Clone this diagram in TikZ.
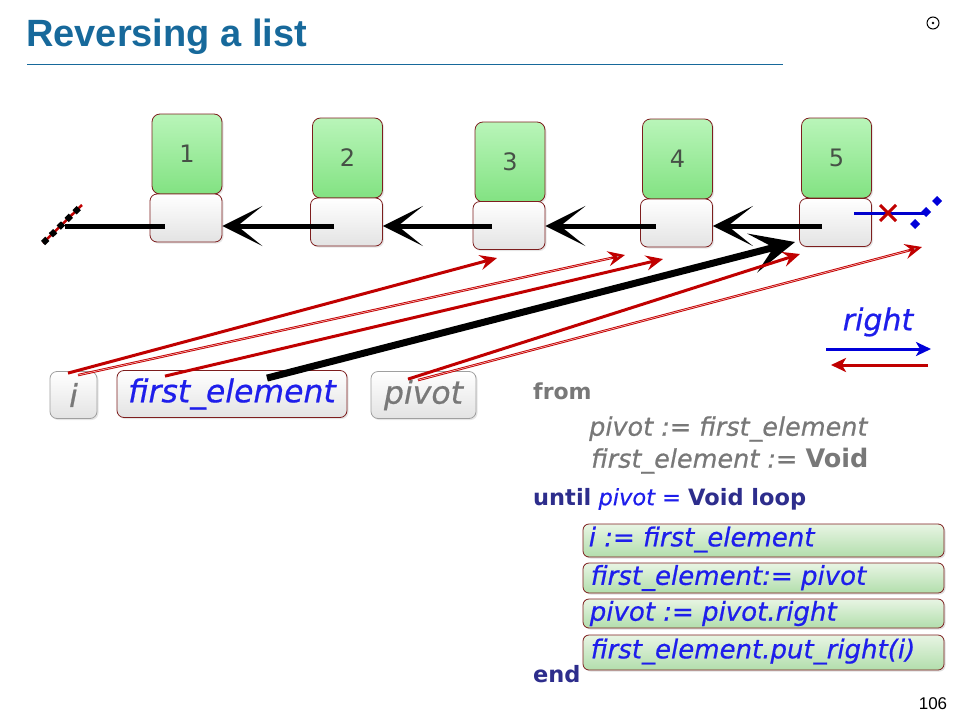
\documentclass[tikz,border=0pt]{standalone}
\usepackage{fontspec}
\setmainfont{DejaVu Sans}
\newfontfamily\titlefont{Liberation Sans}
\newfontfamily\comicit{DejaVu Sans Oblique}[FakeBold=0.6]
\usetikzlibrary{arrows.meta,calc,shadows}
\newcommand\myfs[1]{\fontsize{#1}{#1}\selectfont}
\definecolor{ttl}{RGB}{23,105,155}
\definecolor{dred}{RGB}{192,0,0}
\definecolor{bord}{RGB}{125,30,30}
\definecolor{kw}{RGB}{45,45,140}
\definecolor{vblue}{RGB}{30,30,235}
\definecolor{cgray}{RGB}{120,120,120}
\definecolor{gtop}{RGB}{185,245,185}
\definecolor{gbot}{RGB}{130,226,130}
\definecolor{btop}{RGB}{232,245,228}
\definecolor{bbot}{RGB}{178,222,172}
\definecolor{numc}{RGB}{70,80,70}
\tikzset{
  valbox/.style={draw=bord, line width=0.8pt, rounded corners=8pt, top color=gtop, bottom color=gbot,
    minimum width=70pt, minimum height=80pt, inner sep=0pt, text=numc, font=\myfs{24},
    drop shadow={opacity=0.2, shadow xshift=1.5pt, shadow yshift=-1.5pt}},
  linkbox/.style={draw=bord, line width=0.8pt, rounded corners=7pt, top color=white, bottom color=gray!22,
    minimum width=72pt, minimum height=48pt, inner sep=0pt,
    drop shadow={opacity=0.2, shadow xshift=1.5pt, shadow yshift=-1.5pt}},
  varbox/.style={draw=gray!75, line width=0.8pt, rounded corners=7pt, top color=white, bottom color=gray!22,
    minimum height=47pt, inner sep=0pt, font=\myfs{31.5}\comicit,
    drop shadow={opacity=0.2, shadow xshift=1.5pt, shadow yshift=-1.5pt}},
  codebar/.style={draw=bord, line width=0.8pt, rounded corners=6pt, top color=btop, bottom color=bbot,
    minimum width=361pt, inner sep=0pt,
    drop shadow={opacity=0.25, shadow xshift=1.5pt, shadow yshift=-1.5pt}},
  barlabel/.style={anchor=west, inner sep=0pt, text=vblue, font=\myfs{26}\comicit},
  codeline/.style={anchor=west, inner sep=0pt, font=\myfs{25.5}},
  blk/.style={line width=5pt, -{Stealth[length=40pt,width=40pt,inset=25pt]}},
  bigblk/.style={line width=7pt, -{Stealth[length=44pt,width=40pt,inset=22pt]}},
  redarr/.style={draw=dred, line width=3pt, -{Stealth[length=17pt,width=15pt,inset=6pt]}},
  redarrg/.style={draw=dred, line width=2.4pt, -{Stealth[length=17pt,width=15pt,inset=6pt,fill=gray!60]}},
  hilite/.style={draw=red!25!white, line width=0.6pt, shorten >=14pt},
  legarr/.style={line width=3pt, -{Stealth[length=15pt,width=14pt,inset=4pt]}},
}
\begin{document}
\begin{tikzpicture}[x=1pt,y=-1pt]
\useasboundingbox (0,0) rectangle (960,720);
% title
\node[anchor=west, inner sep=0pt, text=ttl, font=\titlefont\bfseries\myfs{38}] (title) at (26,37) {Reversing a list};
\draw[ttl, line width=1pt] (27,64) -- (783,64);
\node[circle, draw, line width=1pt, minimum size=12pt, inner sep=0pt] (icon) at (933,23) {};
\fill (icon.center) circle (1.3pt);

% list cells
\node[valbox] (g1) at (187,154) {1};
\node[valbox] (g2) at (347.5,158) {2};
\node[valbox] (g3) at (510,162) {3};
\node[valbox] (g4) at (677.5,159) {4};
\node[valbox] (g5) at (836.5,158) {5};
\node[linkbox] (w1) at (186,218) {};
\node[linkbox] (w2) at (346.5,222) {};
\node[linkbox] (w3) at (509,225.5) {};
\node[linkbox] (w4) at (676.5,223) {};
\node[linkbox] (w5) at (835.5,222.5) {};

% left Void marker
\coordinate (vl1) at (43,243);
\coordinate (vl2) at (82,205);
\draw[dred, line width=2.5pt] (vl1) -- (vl2);
\draw[black, line width=6pt, dash pattern=on 6pt off 5pt] (vl1) -- (vl2);

% link pointers (reversed)
\coordinate (a1) at (165,226);
\coordinate (a0) at (65,226);
\coordinate (a2) at (334,226);
\coordinate (a3) at (492,226);
\coordinate (a4) at (656,226);
\coordinate (a5) at (822,226);
\draw[line width=5pt] (a1) -- (a0);
\draw[blk] (a2) -- (w1.east |- a2);
\draw[blk] (a3) -- (w2.east |- a3);
\draw[blk] (a4) -- (w3.east |- a4);
\draw[blk] (a5) -- (w4.east |- a5);

% right Void marker (old link, crossed)
\coordinate (b0) at (854,213);
\coordinate (b1) at (926,213);
\coordinate (xc) at (888,213);
\draw[blue!80!black, line width=3pt] (b0) -- (b1);
\draw[dred, line width=3pt] ($(xc)+(-8,-8)$) -- ($(xc)+(8,8)$) ($(xc)+(-8,8)$) -- ($(xc)+(8,-8)$);
\foreach \p in {(915,224),(926,212),(937,201)}
  \fill[blue!85!black] \p ++(0,-5) -- ++(5,5) -- ++(-5,5) -- ++(-5,-5) -- cycle;

% variables
\node[varbox, minimum width=47pt, text=cgray] (vi) at (73.5,395) {i};
\node[varbox, draw=bord, minimum width=230pt, text=vblue] (vfe) at (232,394) {first\_element};
\node[varbox, minimum width=105pt, text=cgray] (vp) at (423.5,395) {pivot};

% reference arrows
\coordinate (t1) at (497,258);
\coordinate (t2) at (625,255);
\coordinate (t3) at (663,259);
\coordinate (t4) at (795,242);
\coordinate (t5) at (800,254);
\coordinate (t6) at (922,247);
\draw[redarr] ([xshift=-5.5pt,yshift=-2pt]vi.north) -- (t1);
\draw[redarrg] ([xshift=4.5pt,yshift=-4pt]vi.north) -- (t2);
\draw[hilite] ([xshift=4.5pt,yshift=-4pt]vi.north) -- (t2);
\draw[redarr] ([xshift=-67pt,yshift=-6pt]vfe.north) -- (t3);
\draw[bigblk] ([xshift=35pt,yshift=-8pt]vfe.north) -- (t4);
\draw[redarr] ([xshift=-15.5pt,yshift=-8pt]vp.north) -- (t5);
\draw[redarrg] ([xshift=-5.5pt,yshift=-9pt]vp.north) -- (t6);
\draw[hilite] ([xshift=-5.5pt,yshift=-9pt]vp.north) -- (t6);

% legend
\node[inner sep=0pt, text=vblue, font=\myfs{30}\comicit] (rlab) at (878,322) {right};
\coordinate (lb0) at (826,349);
\coordinate (lb1) at (931,349);
\coordinate (lr0) at (928,365);
\coordinate (lr1) at (831,365);
\draw[legarr, blue!85!black] (lb0) -- (lb1);
\draw[legarr, dred] (lr0) -- (lr1);

% code
\node[codeline, text=cgray, font=\myfs{22}\bfseries] (kfrom) at (533,391) {from};
\node[codeline, text=cgray] (c1) at (589,429) {\comicit pivot := first\_element};
\node[codeline, text=cgray] (c2) at (591,461) {{\comicit first\_element :=} \bfseries Void};
\node[codeline, font=\myfs{22.5}] (c3) at (533,499) {\textcolor{kw}{\bfseries until} \textcolor{vblue}{\comicit pivot =} \textcolor{kw}{\bfseries Void loop}};
\node[codebar, minimum height=33pt] (bar1) at (763.5,540.5) {};
\node[codebar, minimum height=30pt] (bar2) at (763.5,578) {};
\node[codebar, minimum height=29pt] (bar3) at (763.5,613.5) {};
\node[codebar, minimum height=35pt] (bar4) at (763.5,652.5) {};
\node[barlabel] (s1) at ([xshift=6pt,yshift=1pt]bar1.west) {i := first\_element};
\node[barlabel] (s2) at ([xshift=8pt]bar2.west) {first\_element:= pivot};
\node[barlabel] (s3) at ([xshift=7pt]bar3.west) {pivot := pivot.right};
\node[barlabel] (s4) at ([xshift=8pt,yshift=1pt]bar4.west) {first\_element.put\_right(i)};
\node[codeline, text=kw, font=\myfs{22.5}\bfseries] (kend) at (533,674) {end};

\node[inner sep=0pt, font=\titlefont\myfs{17}] (pnum) at (933,704) {106};
\end{tikzpicture}
\end{document}
